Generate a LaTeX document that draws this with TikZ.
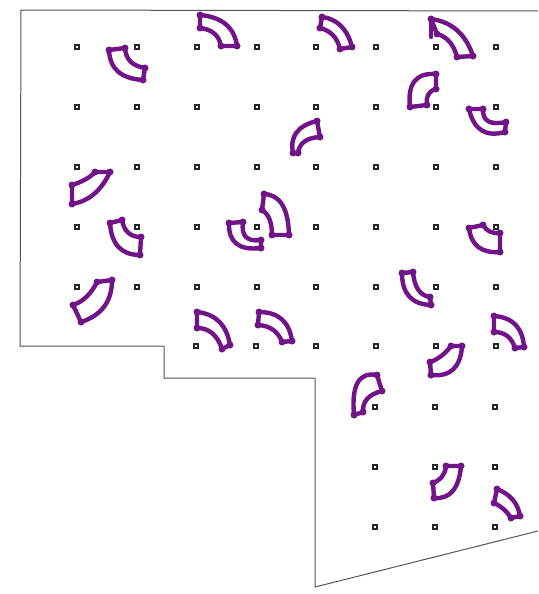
\documentclass[tikz,border=0pt]{standalone}
\usetikzlibrary{calc}
\definecolor{plum}{RGB}{112,20,135}
\definecolor{wall}{RGB}{85,85,90}
\tikzset{
  outline/.style={draw=wall,line width=1pt,line join=miter},
  post/.style={draw=black!85,line width=1.3pt,fill=white},
  tilepath/.style={draw=plum,line width=4.4pt,line join=round,line cap=round},
  tiledot/.style={fill=plum,draw=none}
}
\newcommand{\tilepiece}[6]{%
  \draw[tilepath] #1 .. controls ($#1!0.667!#2$) and ($#3!0.667!#2$) .. #3 -- #4
     .. controls ($#4!0.667!#5$) and ($#6!0.667!#5$) .. #6 -- cycle;
  \foreach \p in {#1,#3,#4,#6} \fill[tiledot] \p circle (3.5pt);
}
\begin{document}
\begin{tikzpicture}[x=1pt,y=-1pt]
\useasboundingbox (0,0) rectangle (538,594);
\fill[white] (0,0) rectangle (538,594);
\draw[outline] (538,11) -- (21,10) -- (20,346) -- (164,346) -- (164,378) -- (315,378) -- (315,587) -- (538,531);
% grid of small posts
\foreach \y in {47,107,167,227,287}
  \foreach \x in {77,137,197,257,316,376,436,496}
    \draw[post] (\x-2.1,\y-2.1) rectangle (\x+2.1,\y+2.1);
\foreach \x in {196,256,316,376,436,496}
  \draw[post] (\x-2.1,346-2.1) rectangle (\x+2.1,346+2.1);
\foreach \y in {407,467,527}
  \foreach \x in {375,435,495}
    \draw[post] (\x-2.1,\y-2.1) rectangle (\x+2.1,\y+2.1);
% curved pieces
\tilepiece{(109,50)}{(110,78)}{(143,80)}{(145,68)}{(126,65)}{(125,48)}
\tilepiece{(200,15)}{(233,18)}{(237,46)}{(221,46)}{(218,30)}{(200,28)}
\tilepiece{(322,17)}{(345,20)}{(352,47)}{(340,49)}{(336,32)}{(320,28)}
\tilepiece{(431,19)}{(462,23)}{(473,56)}{(457,57)}{(452,38)}{(437,34)}
\draw[tilepath] (431,19) -- (431,37);
\tilepiece{(436,74)}{(406,72)}{(410,107)}{(427,105)}{(425,92)}{(436,89)}
\tilepiece{(469,109)}{(476,140)}{(505,132)}{(506,122)}{(482,127)}{(483,109)}
\tilepiece{(317,121)}{(288,128)}{(293,153)}{(298,153)}{(300,138)}{(320,137)}
\tilepiece{(110,172)}{(97,200)}{(72,204)}{(72,185)}{(88,180)}{(95,172)}
\tilepiece{(110,223)}{(112,255)}{(140,255)}{(141,237)}{(125,237)}{(122,220)}
\tilepiece{(229,223)}{(228,252)}{(261,248)}{(261,240)}{(240,243)}{(243,222)}
\tilepiece{(264,194)}{(288,195)}{(289,235)}{(272,235)}{(272,216)}{(262,210)}
\tilepiece{(112,280)}{(112,312)}{(81,322)}{(73,305)}{(88,300)}{(97,282)}
\tilepiece{(197,312)}{(225,315)}{(230,345)}{(222,349)}{(215,328)}{(197,328)}
\tilepiece{(259,312)}{(288,312)}{(292,341)}{(282,342)}{(276,326)}{(258,325)}
\tilepiece{(469,228)}{(472,254)}{(500,252)}{(500,233)}{(488,234)}{(483,225)}
\tilepiece{(402,273)}{(402,304)}{(431,305)}{(430,297)}{(415,295)}{(413,272)}
\tilepiece{(494,316)}{(522,318)}{(524,347)}{(515,348)}{(510,332)}{(494,332)}
\tilepiece{(462,346)}{(460,378)}{(431,375)}{(430,362)}{(442,358)}{(451,346)}
\tilepiece{(377,375)}{(350,370)}{(354,415)}{(363,412)}{(362,396)}{(382,391)}
\tilepiece{(461,466)}{(458,500)}{(434,498)}{(433,483)}{(445,478)}{(446,466)}
\tilepiece{(497,489)}{(517,497)}{(520,516)}{(511,518)}{(505,508)}{(494,503)}
\end{tikzpicture}
\end{document}
